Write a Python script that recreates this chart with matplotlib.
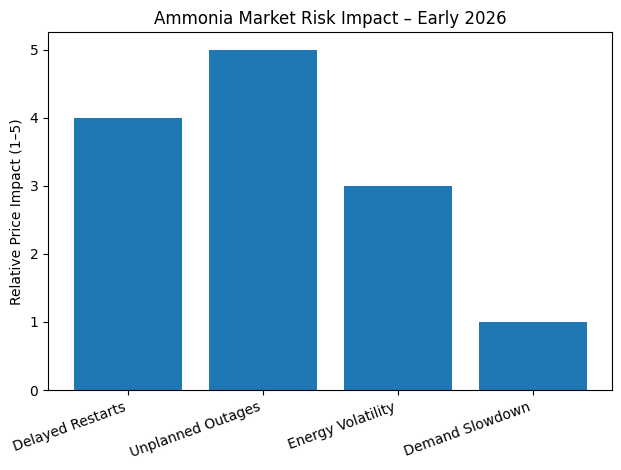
import matplotlib.pyplot as plt

# Risk categories and their relative price impact scores
risks = ["Delayed Restarts", "Unplanned Outages", "Energy Volatility", "Demand Slowdown"]
impact = [4, 5, 3, 1]

fig, ax = plt.subplots(figsize=(6.21, 4.70), dpi=100)

ax.bar(risks, impact, color="#1f77b4")

ax.set_title("Ammonia Market Risk Impact \u2013 Early 2026")
ax.set_ylabel("Relative Price Impact (1\u20135)")
plt.xticks(rotation=20, ha="right")

fig.subplots_adjust(left=0.0773, right=0.9863, top=0.9309, bottom=0.1702)
fig.savefig("out.png", dpi=100)
